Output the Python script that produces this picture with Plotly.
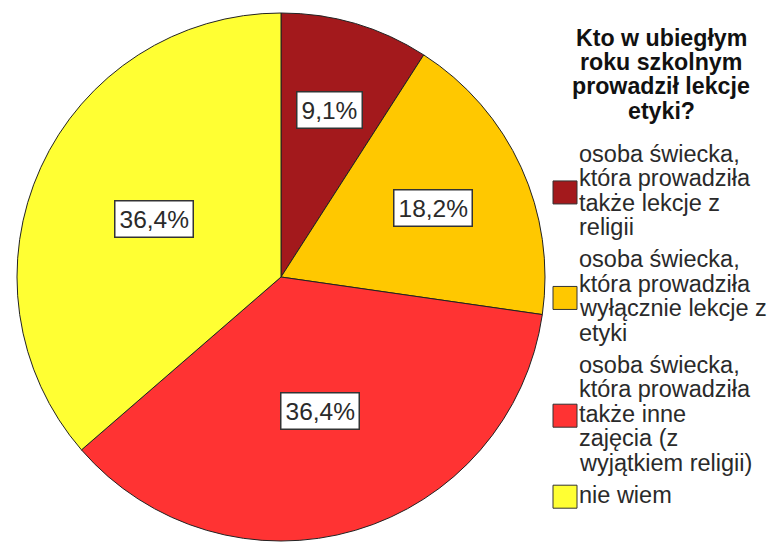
import math
import plotly.graph_objects as go

# ---- data ----
categories = [
    "osoba świecka,\nktóra prowadziła\ntakże lekcje z\nreligii",
    "osoba świecka,\nktóra prowadziła\nwyłącznie lekcje z\netyki",
    "osoba świecka,\nktóra prowadziła\ntakże inne\nzajęcia (z\nwyjątkiem religii)",
    "nie wiem",
]
percentages = [9.1, 18.2, 36.4, 36.4]
slice_colors = ["#A3191C", "#FFC800", "#FF3333", "#FFFF33"]
title_lines = ["Kto w ubiegłym", "roku szkolnym", "prowadził lekcje", "etyki?"]

# ---- layout constants (pixels) ----
W, H = 772, 542
CX, CY, R = 281, 277, 264
FONT = "Liberation Sans, Arial, sans-serif"
FS_LABEL = 24.5
FS_TITLE = 23.2
FS_ITEM = 23.5


def px(x):
    return x / W


def py(y):
    return 1 - y / H


fig = go.Figure(
    go.Pie(
        labels=[c.replace("\n", " ") for c in categories],
        values=percentages,
        sort=False,
        direction="clockwise",
        rotation=0,
        marker=dict(colors=slice_colors, line=dict(color="#222222", width=1)),
        textinfo="none",
        hoverinfo="label+percent",
        showlegend=False,
        domain=dict(x=[px(CX - R), px(CX + R)], y=[py(CY + R), py(CY - R)]),
    )
)

annotations = []
shapes = []

# percentage labels at slice centroids
total = sum(percentages)
cum = 0.0
for p in percentages:
    a0 = cum / total * 2 * math.pi
    cum += p
    a1 = cum / total * 2 * math.pi
    mid = (a0 + a1) / 2
    half = (a1 - a0) / 2
    d = 2 * R * math.sin(half) / (3 * half)
    x = CX + d * math.sin(mid)
    y = CY - d * math.cos(mid)
    annotations.append(dict(
        x=px(x), y=py(y), xref="paper", yref="paper",
        xanchor="center", yanchor="middle", showarrow=False,
        text=f"{p:.1f}".replace(".", ",") + "%",
        font=dict(family=FONT, size=FS_LABEL, color="#2a2a2a"),
        bgcolor="white", bordercolor="#333333", borderwidth=1.5, borderpad=4,
    ))

# legend title (tight leading, one annotation per line)
for i, line in enumerate(title_lines):
    b = 46.0 + i * 24.2
    annotations.append(dict(
        x=px(661), y=py(b - 0.3465 * FS_TITLE), xref="paper", yref="paper",
        xanchor="center", yanchor="middle", showarrow=False,
        text=f"<b>{line}</b>",
        font=dict(family=FONT, size=FS_TITLE, color="#111111"),
    ))

# legend items
LINE_H = 24.5
GAP = 7.5
b = 161.7
for cat, col in zip(categories, slice_colors):
    lines = cat.split("\n")
    baselines = []
    for line in lines:
        annotations.append(dict(
            x=px(577), y=py(b - 0.3465 * FS_ITEM), xref="paper", yref="paper",
            xanchor="left", yanchor="middle", showarrow=False,
            text=line,
            font=dict(family=FONT, size=FS_ITEM, color="#2a2a2a"),
        ))
        baselines.append(b)
        b += LINE_H
    b += GAP
    yc = sum(baselines) / len(baselines) - 6
    shapes.append(dict(
        type="rect", xref="paper", yref="paper",
        x0=px(553), x1=px(577), y0=py(yc + 11.5), y1=py(yc - 11.5),
        fillcolor=col, line=dict(color="#333333", width=1),
    ))

fig.update_layout(
    width=W, height=H,
    margin=dict(l=0, r=0, t=0, b=0),
    paper_bgcolor="white", plot_bgcolor="white",
    showlegend=False,
    annotations=annotations,
    shapes=shapes,
)

fig.write_html(
    "out.html",
    config={"displayModeBar": False},
    post_script="document.body.style.margin='0';document.body.style.overflow='hidden';",
)
